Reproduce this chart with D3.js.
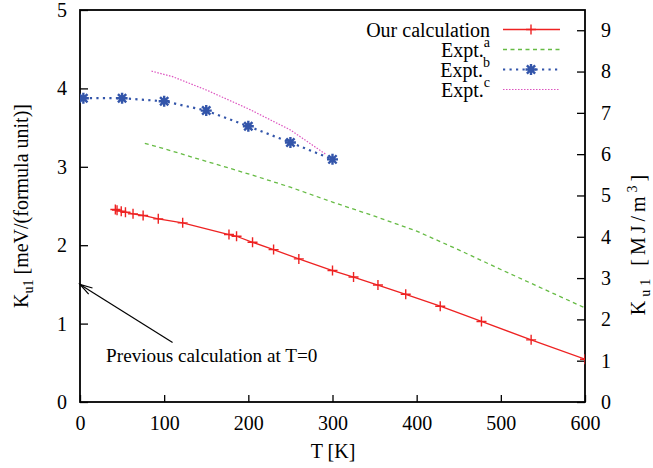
<!DOCTYPE html>
<html>
<head>
<meta charset="utf-8">
<script src="https://cdn.jsdelivr.net/npm/d3@7"></script>
<style>
  body { margin: 0; background: #fff; }
  svg { display: block; font-family: "Liberation Serif", "DejaVu Serif", serif; }
</style>
</head>
<body>
<svg id="chart" width="653" height="468"></svg>
<script>
// our calculation (red, +)
var calcT = [42, 44, 49, 54, 63, 75, 93, 122, 177, 186, 205, 230, 260, 300, 325, 354, 387, 428, 477, 536, 600];
var calcK = [2.455, 2.447, 2.434, 2.421, 2.40, 2.379, 2.336, 2.285, 2.136, 2.114, 2.037, 1.944, 1.825, 1.677, 1.594, 1.492, 1.374, 1.222, 1.027, 0.793, 0.546];
// Expt. a (green dashed)
var exptA_T = [77, 100, 150, 200, 250, 300, 350, 400, 450, 500, 550, 600];
var exptA_K = [3.30, 3.23, 3.07, 2.91, 2.74, 2.55, 2.37, 2.18, 1.94, 1.69, 1.445, 1.20];
// Expt. b (blue dotted, *)
var exptB_T = [4, 50, 100, 150, 200, 250, 300];
var exptB_K = [3.875, 3.875, 3.836, 3.717, 3.517, 3.31, 3.095];
// Expt. c (magenta dotted)
var exptC_T = [85, 110, 150, 200, 250, 292];
var exptC_K = [4.22, 4.15, 3.98, 3.74, 3.47, 3.16];

var xTicks = [0, 100, 200, 300, 400, 500, 600];
var yTicks = [0, 1, 2, 3, 4, 5];
var y2Ticks = [0, 1, 2, 3, 4, 5, 6, 7, 8, 9];

// annotation: arrow from label to previous T=0 value
var arrowFrom = [110, 0.758];
var arrowTo = [0, 1.5];
var noteAt = [31, 0.51];

var padL = 80, padR = 585, padT = 10, padB = 402;
var fs = 20;

var svg = d3.select("#chart");
var x = d3.scaleLinear().domain([0, 600]).range([padL, padR]);
var y = d3.scaleLinear().domain([0, 5]).range([padB, padT]);
var y2 = d3.scaleLinear().domain([0, 9.49]).range([padB, padT]);

svg.append("defs").append("clipPath").attr("id", "clip")
  .append("rect").attr("x", padL).attr("y", padT).attr("width", padR - padL).attr("height", padB - padT);

// axes, ticks inside like gnuplot
var xAxis = svg.append("g").attr("transform", "translate(0," + padB + ")")
  .call(d3.axisBottom(x).tickValues(xTicks).tickFormat(d3.format("d")).tickSizeInner(-7).tickSizeOuter(0).tickPadding(14));
var yAxis = svg.append("g").attr("transform", "translate(" + padL + ",0)")
  .call(d3.axisLeft(y).tickValues(yTicks).tickFormat(d3.format("d")).tickSizeInner(-8).tickSizeOuter(0).tickPadding(13));
var y2Axis = svg.append("g").attr("transform", "translate(" + padR + ",0)")
  .call(d3.axisRight(y2).tickValues(y2Ticks).tickFormat(d3.format("d")).tickSizeInner(-8).tickSizeOuter(0).tickPadding(16));

[xAxis, yAxis, y2Axis].forEach(function(a){
  a.select(".domain").remove();
  a.selectAll("line").attr("stroke", "#000").attr("stroke-width", 1.3);
  a.selectAll("text").attr("font-family", "Liberation Serif").attr("font-size", fs).attr("fill", "#000");
});

svg.append("rect").attr("x", padL).attr("y", padT).attr("width", padR - padL).attr("height", padB - padT)
  .attr("fill", "none").attr("stroke", "#000").attr("stroke-width", 1.8);

// axis labels
svg.append("text").attr("x", 333).attr("y", 458).attr("text-anchor", "middle").attr("font-size", fs).text("T [K]");

var yl = svg.append("text").attr("transform", "translate(28,206) rotate(-90)").attr("text-anchor", "middle").attr("font-size", fs);
yl.append("tspan").text("K");
yl.append("tspan").attr("dy", 5).attr("font-size", 14).text("u1");
yl.append("tspan").attr("dy", -5).text(" [meV/(formula unit)]");

var y2l = svg.append("text").attr("transform", "translate(645,243) rotate(-90)").attr("text-anchor", "middle")
  .attr("font-size", fs).attr("letter-spacing", 4);
y2l.append("tspan").text("K");
y2l.append("tspan").attr("dy", 5).attr("font-size", 14).text("u1");
y2l.append("tspan").attr("dy", -5).text(" [MJ/m");
y2l.append("tspan").attr("dy", -8).attr("font-size", 14).text("3");
y2l.append("tspan").attr("dy", 8).text("]");

var plot = svg.append("g").attr("clip-path", "url(#clip)");
var line = d3.line().x(function(d){ return x(d[0]); }).y(function(d){ return y(d[1]); });

var calc = d3.zip(calcT, calcK);
var ea = d3.zip(exptA_T, exptA_K);
var eb = d3.zip(exptB_T, exptB_K);
var ec = d3.zip(exptC_T, exptC_K);

plot.append("path").attr("d", line(ea)).attr("fill", "none").attr("stroke", "#66bb44").attr("stroke-width", 1.3).attr("stroke-dasharray", "4,3.5");
plot.append("path").attr("d", line(ec)).attr("fill", "none").attr("stroke", "#dd55c0").attr("stroke-width", 1.2).attr("stroke-dasharray", "1.5,1.5");
plot.append("path").attr("d", line(eb)).attr("fill", "none").attr("stroke", "#3355aa").attr("stroke-width", 2.2).attr("stroke-dasharray", "2.2,4.3");
plot.append("path").attr("d", line(calc)).attr("fill", "none").attr("stroke", "#ee2222").attr("stroke-width", 1.3);

function plus(g, cx, cy, s, col){
  g.append("path").attr("d", "M" + (cx - s) + "," + cy + "H" + (cx + s) + "M" + cx + "," + (cy - s) + "V" + (cy + s))
    .attr("stroke", col).attr("stroke-width", 1.4).attr("fill", "none");
}
function star(g, cx, cy, s, col){
  var d = s * 0.75;
  g.append("path").attr("d", "M" + (cx - s) + "," + cy + "H" + (cx + s) + "M" + cx + "," + (cy - s) + "V" + (cy + s)
      + "M" + (cx - d) + "," + (cy - d) + "L" + (cx + d) + "," + (cy + d) + "M" + (cx - d) + "," + (cy + d) + "L" + (cx + d) + "," + (cy - d))
    .attr("stroke", col).attr("stroke-width", 2.4).attr("fill", "none");
}

calc.forEach(function(d){ plus(plot, x(d[0]), y(d[1]), 5, "#ee2222"); });
eb.forEach(function(d){ star(plot, x(d[0]), y(d[1]), 5.5, "#3355aa"); });

// arrow + note
var ax1 = x(arrowFrom[0]), ay1 = y(arrowFrom[1]), ax2 = x(arrowTo[0]), ay2 = y(arrowTo[1]);
svg.append("line").attr("x1", ax1).attr("y1", ay1).attr("x2", ax2).attr("y2", ay2).attr("stroke", "#000").attr("stroke-width", 1.2);
var ang = Math.atan2(ay1 - ay2, ax1 - ax2);
var hl = 13, ha = 0.28;
svg.append("path")
  .attr("d", "M" + (ax2 + hl*Math.cos(ang + ha)) + "," + (ay2 + hl*Math.sin(ang + ha)) + "L" + ax2 + "," + ay2 + "L" + (ax2 + hl*Math.cos(ang - ha)) + "," + (ay2 + hl*Math.sin(ang - ha)))
  .attr("fill", "none").attr("stroke", "#000").attr("stroke-width", 1.2);
svg.append("text").attr("x", x(noteAt[0])).attr("y", y(noteAt[1])).attr("font-size", 19.2).text("Previous calculation at T=0");

// legend
var legend = [
  { name: "Our calculation", sup: null, col: "#ee2222", dash: null, w: 1.3, mark: "plus" },
  { name: "Expt.", sup: "a", col: "#66bb44", dash: "4,3.5", w: 1.3, mark: null },
  { name: "Expt.", sup: "b", col: "#3355aa", dash: "2.2,4.3", w: 2.2, mark: "star" },
  { name: "Expt.", sup: "c", col: "#dd55c0", dash: "1.5,1.5", w: 1.2, mark: null }
];
var lg = svg.append("g");
legend.forEach(function(d, i){
  var cy = 29.5 + i * 20;
  var t = lg.append("text").attr("x", 490).attr("y", cy + 7).attr("text-anchor", "end").attr("font-size", fs).text(d.name);
  if(d.sup){ t.append("tspan").attr("dy", -10).attr("font-size", 14).text(d.sup); }
  var l = lg.append("line").attr("x1", 503).attr("x2", 560).attr("y1", cy).attr("y2", cy).attr("stroke", d.col).attr("stroke-width", d.w);
  if(d.dash) l.attr("stroke-dasharray", d.dash);
  if(d.mark == "plus") plus(lg, 531, cy, 5, d.col);
  if(d.mark == "star") star(lg, 531, cy, 5.5, d.col);
});
</script>
</body>
</html>
